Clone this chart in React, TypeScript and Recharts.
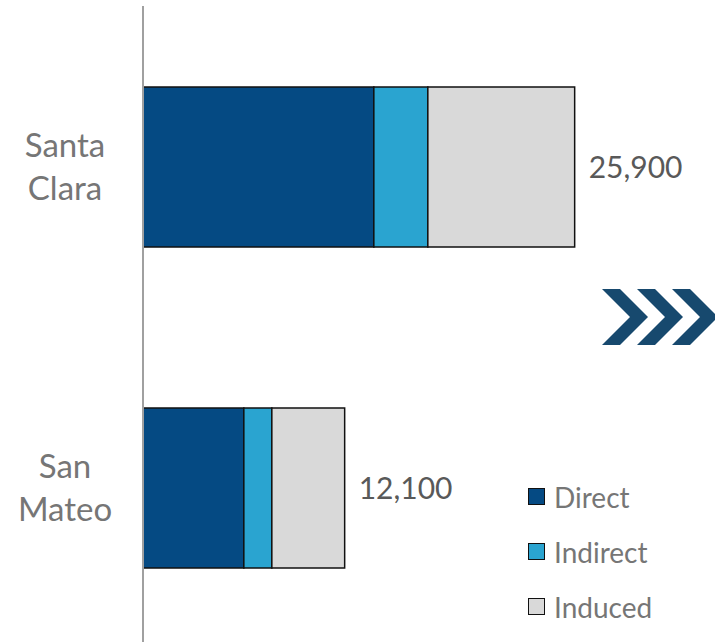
import React from 'react';
import { BarChart, Bar, XAxis, YAxis, LabelList } from 'recharts';

const counties = ['Santa Clara', 'San Mateo'];
const direct = [13850, 6050];
const indirect = [3240, 1680];
const induced = [8810, 4370];
const totals = [25900, 12100];

const seriesNames = ['Direct', 'Indirect', 'Induced'];
const seriesColors = ['#054a83', '#2aa4d0', '#d9d9d9'];

const data = counties.map((name, i) => ({
  name,
  Direct: direct[i],
  Indirect: indirect[i],
  Induced: induced[i],
  total: totals[i]
}));

const FONT = 'Lato, "Open Sans", sans-serif';

const CountyTick = (props: any) => {
  const { y, payload } = props;
  const words = String(payload.value).split(' ');
  return (
    <text
      x={65}
      y={y}
      textAnchor="middle"
      fill="#767676"
      fontSize={33}
      fontFamily={FONT}
    >
      <tspan x={65} y={y - 10}>{words[0]}</tspan>
      <tspan x={65} y={y + 33}>{words.slice(1).join(' ')}</tspan>
    </text>
  );
};

// legend kept out of the chart so it doesn't eat plot height
const LegendBox = () => (
  <div style={{ position: 'absolute', left: 528, top: 469, fontFamily: FONT }}>
    {seriesNames.map((s, i) => (
      <div
        key={s}
        style={{ display: 'flex', alignItems: 'center', height: 55, color: '#767676', fontSize: 28 }}
      >
        <span
          style={{
            display: 'inline-block',
            width: 15,
            height: 15,
            background: seriesColors[i],
            border: '1.5px solid #111',
            marginRight: 9
          }}
        />
        {s}
      </div>
    ))}
  </div>
);

const Chevrons = () => (
  <svg
    width={715}
    height={642}
    style={{ position: 'absolute', left: 0, top: 0, pointerEvents: 'none' }}
  >
    {[0, 35, 70].map((dx) => (
      <polygon
        key={dx}
        points={`${602 + dx},289 ${620 + dx},289 ${648 + dx},317 ${620 + dx},345 ${602 + dx},345 ${630 + dx},317`}
        fill="#17496e"
      />
    ))}
  </svg>
);

export default function App() {
  return (
    <div
      style={{
        position: 'absolute',
        left: 0,
        top: 0,
        width: 715,
        height: 642,
        overflow: 'hidden',
        background: '#fff'
      }}
    >
      <BarChart
        width={715}
        height={656}
        data={data}
        layout="vertical"
        margin={{ top: 6, right: 72, bottom: 8, left: 0 }}
        barSize={160}
      >
        <XAxis type="number" domain={[0, 30000]} hide />
        <YAxis
          type="category"
          dataKey="name"
          width={143}
          axisLine={{ stroke: '#a0a0a0', strokeWidth: 2 }}
          tickLine={false}
          tick={<CountyTick />}
        />
        {seriesNames.map((s, i) => (
          <Bar
            key={s}
            dataKey={s}
            stackId="a"
            fill={seriesColors[i]}
            stroke="#111"
            strokeWidth={1.5}
            isAnimationActive={false}
          >
            {i === seriesNames.length - 1 && (
              <LabelList
                dataKey="total"
                position="right"
                offset={14}
                fill="#595959"
                fontSize={30}
                fontFamily={FONT}
                formatter={(v: any) => Number(v).toLocaleString('en-US')}
              />
            )}
          </Bar>
        ))}
      </BarChart>
      <LegendBox />
      <Chevrons />
    </div>
  );
}
